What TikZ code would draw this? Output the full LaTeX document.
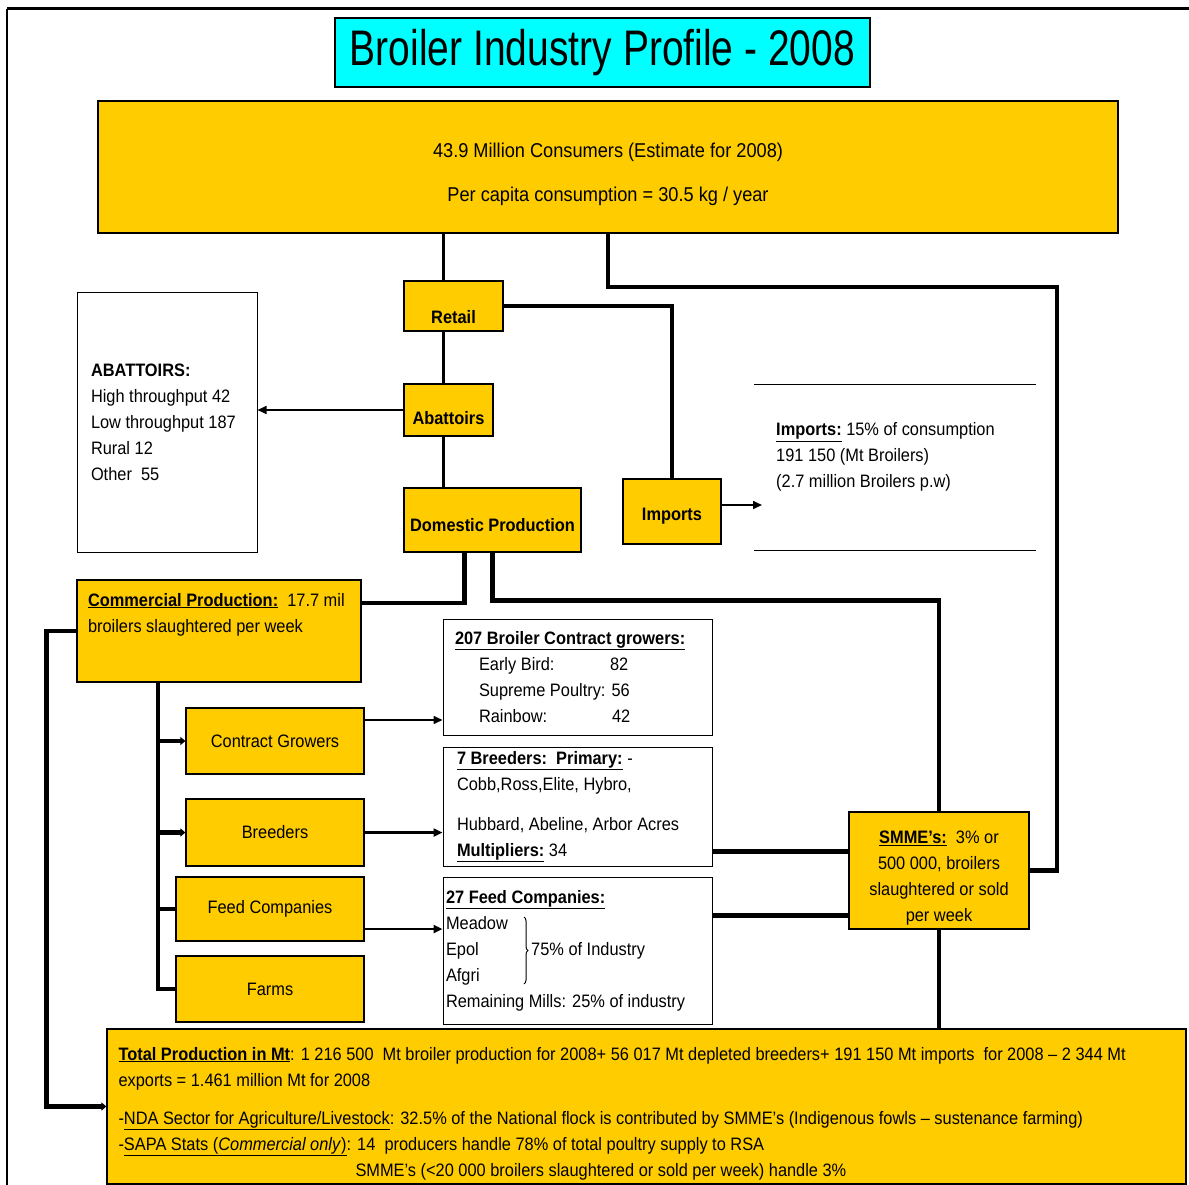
\documentclass[tikz,border=0pt]{standalone}
\usepackage{fontspec}
\setmainfont{Liberation Sans}[FakeStretch=0.91]
\newfontfamily\titlefont{Liberation Sans}[FakeStretch=0.78]
\usetikzlibrary{arrows.meta,calc,decorations.pathreplacing}

\definecolor{gold}{HTML}{FFCC00}
\definecolor{titlecyan}{HTML}{00FFFF}
\newcommand{\labelsize}{\fontsize{18}{26}\selectfont}

\tikzset{
  goldbox/.style={draw, fill=gold, line width=1.2pt, inner sep=0pt, font=\labelsize, align=center},
  infobox/.style={draw, fill=white, line width=1pt, inner sep=0pt, font=\labelsize},
  thinlink/.style={line width=1.6pt},
  spinelink/.style={line width=2.6pt},
  midlink/.style={line width=2.6pt},
  thicklink/.style={line width=4.5pt},
  arrowlink/.style={-{Triangle[length=9pt,width=8pt]}},
  smallarrow/.style={-{Triangle[length=5pt,width=8pt]}},
}

\begin{document}
\begin{tikzpicture}[x=1pt,y=-1pt]
\useasboundingbox (0,0) rectangle (1189,1185);

% page frame
\draw[line width=3pt] (7,9) -- (1189,9);
\draw[line width=2pt] (7,9) -- (7,1185);

\node[goldbox, fill=titlecyan, minimum width=535pt, minimum height=69pt,
      font={\titlefont\fontsize{50}{56}\selectfont}] (title) at (602.5,52.5) {Broiler Industry Profile - 2008};

\node[goldbox, minimum width=1020pt, minimum height=132pt, font={\fontsize{20}{26}\selectfont}] (consumers) at (608,167)
  {\rule{0pt}{30pt}43.9 Million Consumers (Estimate for 2008)\\[18pt]Per capita consumption = 30.5 kg / year};

% chain down the middle
\node[goldbox, minimum width=99pt, minimum height=50pt] (retail) at (453.5,306) {\rule{0pt}{36pt}\bfseries Retail};
\node[goldbox, minimum width=89pt, minimum height=52pt] (abattoirs) at (448.5,410) {\rule{0pt}{30pt}\bfseries Abattoirs};
\node[goldbox, minimum width=177pt, minimum height=64pt] (domestic) at (492.5,520) {\rule{0pt}{24pt}\bfseries Domestic Production};
\node[goldbox, minimum width=98pt, minimum height=65pt] (imports) at (672,511.5) {\rule{0pt}{22pt}\bfseries Imports};

\node[infobox, minimum width=180pt, minimum height=260pt] (abatinfo) at (167,422)
  {\parbox{152pt}{\raggedright\textbf{ABATTOIRS:}\\High throughput 42\\Low throughput 187\\Rural 12\\Other\ \ 55}};

% imports figures between two rules
\draw[line width=1pt] (754,384) -- (1036,384);
\draw[line width=1pt] (754,550) -- (1036,550);
\node[anchor=west, align=left, inner sep=0pt, font=\labelsize] (impinfo) at (776,457)
  {\underline{\textbf{Imports:}} 15\% of consumption\\191 150 (Mt Broilers)\\(2.7 million Broilers p.w)};
\coordinate (impend) at (762,505);

% commercial side
\node[goldbox, minimum width=284pt, minimum height=102pt] (commercial) at (219,631)
  {\parbox[c][90pt][t]{262pt}{\raggedright\rule{0pt}{20pt}\underline{\textbf{Commercial Production:}}\ \ 17.7 mil\\broilers slaughtered per week}};

\node[goldbox, minimum width=178pt, minimum height=66pt] (cg) at (275,741) {Contract Growers};
\node[goldbox, minimum width=178pt, minimum height=67pt] (breeders) at (275,832.5) {Breeders};
\node[goldbox, minimum width=188pt, minimum height=64pt] (feed) at (270,909) {Feed Companies};
\node[goldbox, minimum width=188pt, minimum height=66pt] (farms) at (270,989) {Farms};

\node[infobox, minimum width=269pt, minimum height=116pt] (growinfo) at (577.5,677)
  {\parbox{245pt}{\raggedright\underline{\textbf{207 Broiler Contract growers:}}\\
   \hspace*{24pt}\makebox[131pt][l]{Early Bird:}82\\
   \hspace*{24pt}Supreme Poultry: 56\\
   \hspace*{24pt}\makebox[133pt][l]{Rainbow:}42}};

\node[infobox, minimum width=269pt, minimum height=119pt] (breedinfo) at (577.5,806.5)
  {\parbox{241pt}{\raggedright\underline{\textbf{7 Breeders:\ \ Primary:}}\ -\\Cobb,Ross,Elite, Hybro,\\[14pt]
   Hubbard, Abeline, Arbor Acres\\\underline{\textbf{Multipliers:}} 34}};

\node[infobox, minimum width=269pt, minimum height=147pt] (feedinfo) at (577.5,950.5)
  {\parbox{263pt}{\raggedright\underline{\textbf{27 Feed Companies:}}\\Meadow\\Epol\\Afgri\\Remaining Mills: 25\% of industry}};
\draw[line width=1pt, decorate, decoration={brace, amplitude=4pt}] (524,917) -- (524,984);
\node[anchor=west, inner sep=0pt, font=\labelsize] (share) at (531,951) {75\% of Industry};

\node[goldbox, minimum width=180pt, minimum height=117pt] (smme) at (939,870.5)
  {\rule{0pt}{28pt}\underline{\textbf{SMME's:}}\ \ 3\% or\\500 000, broilers\\slaughtered or sold\\per week};

\node[goldbox, minimum width=1079pt, minimum height=155pt] (bottom) at (646.5,1106.5)
  {\parbox[c][147pt][t]{1056pt}{\raggedright\rule{0pt}{27pt}\underline{\textbf{Total Production in Mt}}: 1 216 500\ \ Mt broiler production for 2008+ 56 017 Mt depleted breeders+ 191 150 Mt imports\ \ for 2008 -- 2 344 Mt\\
   exports = 1.461 million Mt for 2008\\[12pt]
   -\underline{NDA Sector for Agriculture/Livestock}: 32.5\% of the National flock is contributed by SMME's (Indigenous fowls -- sustenance farming)\\
   -\underline{SAPA Stats (\textit{Commercial only})}: 14\ \ producers handle 78\% of total poultry supply to RSA\\
   \hspace*{237pt}SMME's (<20 000 broilers slaughtered or sold per week) handle 3\%}};

% connectors
\coordinate (spine) at ([xshift=-10pt]retail.north);
\coordinate (rightbus) at (1057,287);
\coordinate (trunk) at ([xshift=-61pt]commercial.south);

\draw[spinelink] (spine |- consumers.south) -- (spine);
\draw[spinelink] (spine |- retail.south) -- (spine |- abattoirs.north);
\draw[spinelink] (spine |- abattoirs.south) -- (spine |- domestic.north);
\draw[thinlink, arrowlink] (abattoirs.west) -- (abattoirs.west -| abatinfo.east);
\draw[thicklink] (retail.east) -| (imports.north);
\draw[thicklink] (consumers.south) |- (rightbus) |- (smme.east);
\draw[thinlink, arrowlink] (imports.east |- impend) -- (impend);

\draw[thicklink] ([xshift=-28pt]domestic.south) |- ([yshift=28pt]commercial.east);
\draw[thicklink] (domestic.south) -- ++(0,48) -| (smme.north);

\draw[thicklink, smallarrow] (commercial.west) -- ++(-30,0) |- (bottom.west);
\draw[thicklink] (trunk) |- (farms.west);
\draw[thicklink, smallarrow] (trunk |- cg.west) -- (cg.west);
\draw[thicklink, smallarrow] (trunk |- breeders.west) -- (breeders.west);
\draw[thicklink] (trunk |- feed.west) -- (feed.west);

\draw[thinlink, arrowlink] ($(cg.east)+(0,-21)$) -- ($(cg.east -| growinfo.west)+(0,-21)$);
\draw[midlink, arrowlink] (breeders.east) -- (breeders.east -| breedinfo.west);
\draw[midlink, arrowlink] ($(feed.east)+(0,20)$) -- ($(feed.east -| feedinfo.west)+(0,20)$);
\draw[thicklink] ($(breedinfo.east)+(0,45)$) -- ($(breedinfo.east -| smme.west)+(0,45)$);
\draw[thicklink] ($(feedinfo.east)+(0,-35)$) -- ($(feedinfo.east -| smme.west)+(0,-35)$);
\draw[thicklink] (smme.south) -- (smme.south |- bottom.north);

\end{tikzpicture}
\end{document}
